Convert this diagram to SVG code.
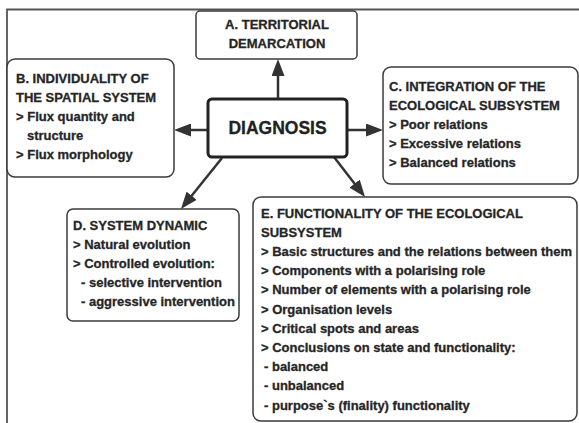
<svg xmlns="http://www.w3.org/2000/svg" width="579" height="423" viewBox="0 0 579 423">
<style>
.box{fill:#fff;stroke:#3a3a3a;stroke-width:1.5}
.main{fill:#fff;stroke:#222;stroke-width:3}
.t{font-family:"Liberation Sans",Arial,sans-serif;font-weight:bold;font-size:13px;fill:#262626;stroke:#262626;stroke-width:0.3}
.big{font-family:"Liberation Sans",Arial,sans-serif;font-weight:bold;font-size:17.5px;fill:#222;stroke:#222;stroke-width:0.3}
.c{stroke:#333;stroke-width:2.5;fill:none;marker-end:url(#ah)}
</style>
<defs>
<marker id="ah" markerUnits="userSpaceOnUse" markerWidth="17" markerHeight="13" refX="8" refY="6.5" orient="auto">
<path d="M0,0 L17,6.5 L0,13 z" fill="#333"/>
</marker>
</defs>
<rect width="579" height="423" fill="#fff"/>
<path d="M7,423 V9.5 H579" fill="none" stroke="#555" stroke-width="1.8"/>
<g id="connectors">
<line class="c" x1="278" y1="99" x2="278" y2="68"/>
<line class="c" x1="208" y1="130" x2="183" y2="130"/>
<line class="c" x1="347" y1="130" x2="374" y2="130"/>
<line class="c" x1="222" y1="158" x2="186.6" y2="202"/>
<line class="c" x1="334" y1="157" x2="359.5" y2="189.9"/>
</g>
<g id="diagnosis">
<rect class="main" x="208" y="99" width="139" height="58" rx="4"/>
<text class="big" x="277.5" y="133.5" text-anchor="middle">DIAGNOSIS</text>
</g>
<g id="nodeA">
<rect class="box" x="196" y="11" width="161" height="48" rx="4"/>
<text class="t" x="277" y="29" text-anchor="middle">A. TERRITORIAL</text>
<text class="t" x="277" y="48" text-anchor="middle">DEMARCATION</text>
</g>
<g id="nodeB">
<rect class="box" x="7" y="59" width="167" height="118" rx="8"/>
<text class="t" x="16" y="83">B. INDIVIDUALITY OF</text>
<text class="t" x="16" y="102">THE SPATIAL SYSTEM</text>
<text class="t" x="16" y="121">&gt; Flux quantity and</text>
<text class="t" x="27" y="140">structure</text>
<text class="t" x="16" y="159">&gt; Flux morphology</text>
</g>
<g id="nodeC">
<rect class="box" x="383" y="67" width="195" height="117" rx="8"/>
<text class="t" x="389" y="91">C. INTEGRATION OF THE</text>
<text class="t" x="389" y="110">ECOLOGICAL SUBSYSTEM</text>
<text class="t" x="389" y="129">&gt; Poor relations</text>
<text class="t" x="389" y="148">&gt; Excessive relations</text>
<text class="t" x="389" y="167">&gt; Balanced relations</text>
</g>
<g id="nodeD">
<rect class="box" x="67" y="209" width="172" height="112" rx="6"/>
<text class="t" x="73" y="230">D. SYSTEM DYNAMIC</text>
<text class="t" x="73" y="249">&gt; Natural evolution</text>
<text class="t" x="73" y="268">&gt; Controlled evolution:</text>
<text class="t" x="81" y="287">- selective intervention</text>
<text class="t" x="81" y="306">- aggressive intervention</text>
</g>
<g id="nodeE">
<rect class="box" x="253" y="197" width="324" height="224" rx="8"/>
<text class="t" x="261" y="217.5">E. FUNCTIONALITY OF THE ECOLOGICAL</text>
<text class="t" x="261" y="236.7">SUBSYSTEM</text>
<text class="t" x="261" y="255.9">&gt; Basic structures and the relations between them</text>
<text class="t" x="261" y="275.1">&gt; Components with a polarising role</text>
<text class="t" x="261" y="294.3">&gt; Number of elements with a polarising role</text>
<text class="t" x="261" y="313.5">&gt; Organisation levels</text>
<text class="t" x="261" y="332.7">&gt; Critical spots and areas</text>
<text class="t" x="261" y="351.9">&gt; Conclusions on state and functionality:</text>
<text class="t" x="264" y="371.1">- balanced</text>
<text class="t" x="264" y="390.3">- unbalanced</text>
<text class="t" x="264" y="409.5">- purpose`s (finality) functionality</text>
</g>
</svg>
